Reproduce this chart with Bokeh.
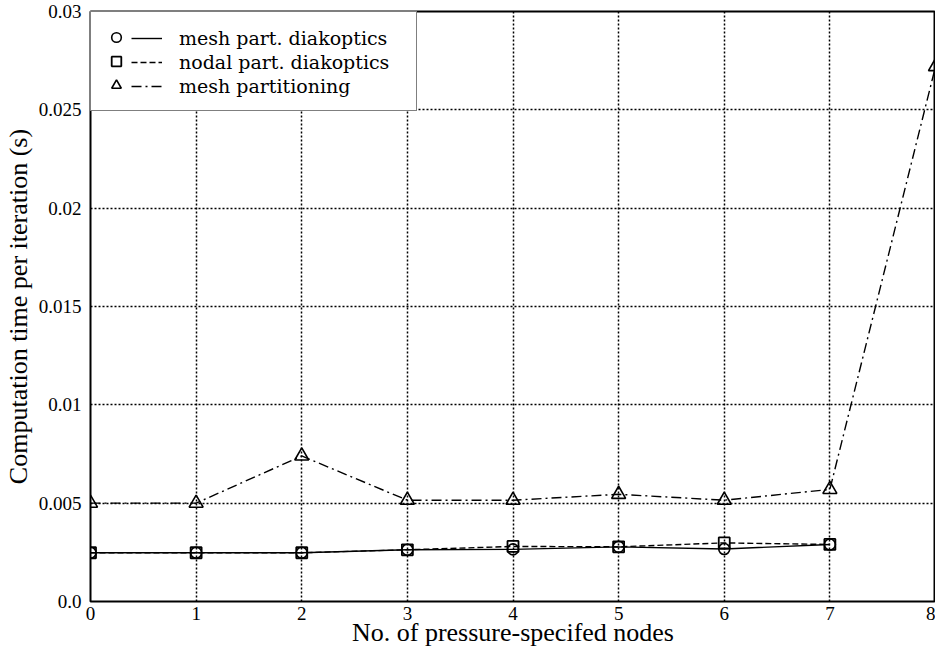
from bokeh.plotting import figure
from bokeh.models import Range1d, FixedTicker, Legend, LegendItem
from bokeh.embed import file_html
from bokeh.resources import INLINE

# ---- data ----
x_diak = [0, 1, 2, 3, 4, 5, 6, 7]
x_mpart = [0, 1, 2, 3, 4, 5, 6, 7, 8]
mesh_diak = [0.00248, 0.00248, 0.00248, 0.00263, 0.00265, 0.00278, 0.00267, 0.00290]
nodal_diak = [0.00248, 0.00248, 0.00248, 0.00263, 0.00280, 0.00278, 0.00298, 0.00290]
mesh_part = [0.0050, 0.0050, 0.0074, 0.00515, 0.00515, 0.00545, 0.00515, 0.0057, 0.0272]

x_ticks = [0, 1, 2, 3, 4, 5, 6, 7, 8]
y_ticks = [0.0, 0.005, 0.01, 0.015, 0.02, 0.025, 0.03]
y_tick_labels = ["0.0", "0.005", "0.01", "0.015", "0.02", "0.025", "0.03"]
names = ["mesh part. diakoptics", "nodal part. diakoptics", "mesh partitioning"]

SERIF = "Liberation Serif"
LEG_FONT = "DejaVu Serif"
FRAME_W = 845
FRAME_H = 590

p = figure(frame_width=FRAME_W, frame_height=FRAME_H, output_backend="svg",
           toolbar_location=None,
           x_range=Range1d(0, 8), y_range=Range1d(0, 0.03),
           min_border_left=86, min_border_top=11, min_border_right=0,
           min_border_bottom=40)
p.background_fill_color = "white"
p.border_fill_color = "white"
p.outline_line_color = "black"
p.outline_line_width = 2

# axes
p.xaxis.ticker = FixedTicker(ticks=x_ticks)
p.yaxis.ticker = FixedTicker(ticks=y_ticks)
p.yaxis.major_label_overrides = {v: s for v, s in zip(y_ticks, y_tick_labels)}
p.xaxis.major_label_overrides = {v: str(v) for v in x_ticks}
for ax in (p.xaxis[0], p.yaxis[0]):
    ax.axis_line_color = None
    ax.major_tick_line_color = None
    ax.minor_tick_line_color = None
    ax.major_tick_out = 0
    ax.major_tick_in = 0
    ax.major_label_text_font = SERIF
    ax.major_label_text_font_size = "19px"
    ax.major_label_text_color = "black"
    ax.axis_label_text_font = SERIF
    ax.axis_label_text_font_size = "26px"
    ax.axis_label_text_font_style = "normal"
    ax.axis_label_text_color = "black"
p.xaxis.axis_label = "No. of pressure-specifed nodes"
p.yaxis.axis_label = "Computation time per iteration (s)"
p.xaxis.major_label_standoff = 5
p.xaxis.axis_label_standoff = -5
p.yaxis.major_label_standoff = 9
p.yaxis.axis_label_standoff = 3

# grid
p.xgrid.ticker = FixedTicker(ticks=x_ticks)
p.ygrid.ticker = FixedTicker(ticks=y_ticks)
for g in (p.xgrid[0], p.ygrid[0]):
    g.grid_line_color = "black"
    g.grid_line_width = 1.5
    g.grid_line_dash = "2 2"
    g.grid_line_alpha = 1.0

# lines
l_mp = p.line(x_mpart, mesh_part, line_color="black", line_width=1.4, line_dash="10 4 2 4")
l_nd = p.line(x_diak, nodal_diak, line_color="black", line_width=1.4, line_dash="6 3")
l_md = p.line(x_diak, mesh_diak, line_color="black", line_width=1.4)

# markers
m_md = p.scatter(x_diak, mesh_diak, marker="circle", size=11, fill_color=None,
                 line_color="black", line_width=1.6)
m_nd = p.scatter(x_diak, nodal_diak, marker="square", size=11, fill_color=None,
                 line_color="black", line_width=1.8)
m_mp = p.scatter(x_mpart, mesh_part, marker="triangle", size=14, fill_color=None,
                 line_color="black", line_width=1.6)

# legend: marker column (also carries the box) + line/label column
PAD = 13
ROW = 24
common = dict(label_text_font=LEG_FONT, label_text_font_size="19px",
              label_height=ROW, glyph_height=ROW, spacing=0, padding=PAD,
              label_text_color="black")
leg_h = 2 * PAD + 3 * ROW
vy = FRAME_H - leg_h + 11
leg1 = Legend(items=[LegendItem(label=" ", renderers=[m_md]),
                     LegendItem(label=" ", renderers=[m_nd]),
                     LegendItem(label=" ", renderers=[m_mp])],
              location="top_left", margin=0, glyph_width=24, label_standoff=0,
              label_width=275,
              border_line_color="black", border_line_width=1.5,
              background_fill_color="white", background_fill_alpha=1.0, **common)
leg2 = Legend(items=[LegendItem(label=names[0], renderers=[l_md]),
                     LegendItem(label=names[1], renderers=[l_nd]),
                     LegendItem(label=names[2], renderers=[l_mp])],
              location=(41, vy), glyph_width=31, label_standoff=17,
              border_line_color=None, background_fill_alpha=0.0, **common)
p.add_layout(leg1, "center")
p.add_layout(leg2, "center")

open("out.html", "w").write(file_html(p, INLINE))
